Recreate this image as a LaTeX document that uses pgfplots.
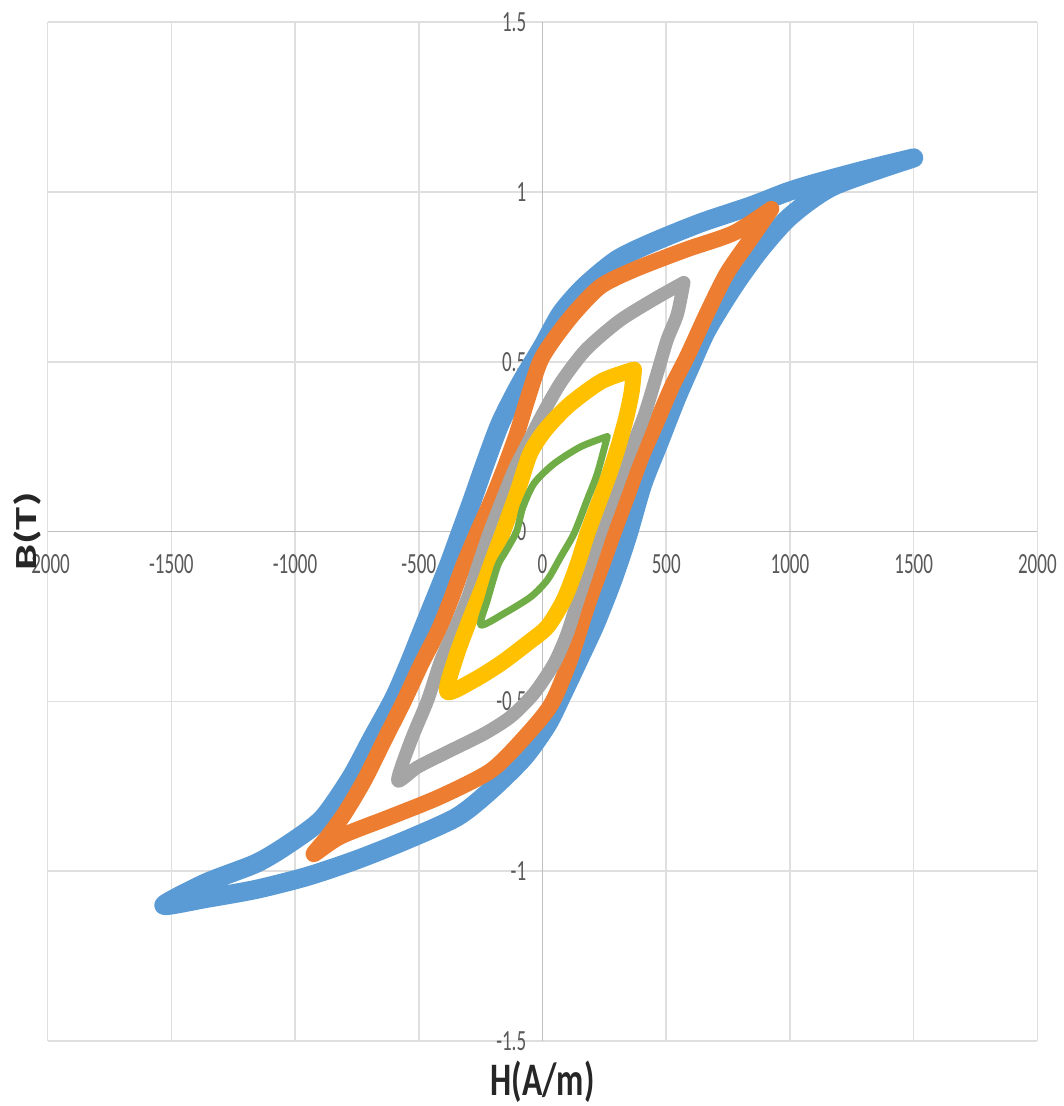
\documentclass[border=0pt]{standalone}
\usepackage{fontspec}
\setmainfont{Carlito}
\usepackage{graphicx}
\usepackage{pgfplots}
\pgfplotsset{compat=1.18}
\definecolor{sblue}{HTML}{5B9BD5}
\definecolor{sorange}{HTML}{ED7D31}
\definecolor{sgray}{HTML}{A5A5A5}
\definecolor{syellow}{HTML}{FFC000}
\definecolor{sgreen}{HTML}{70AD47}
\definecolor{ticktext}{HTML}{595959}

% tick labels above the curves, as in the original
\pgfplotsset{
  layers/labelsontop/.define layer set={
    axis background,axis grid,axis ticks,axis lines,main,
    axis tick labels,axis descriptions,axis foreground
  }{},
}

% loops: upper (descending) branch first, then lower (ascending) branch
\pgfplotstableread{
H B
1500 1.10
1310 1.066
1110 1.027
990 1.00
840 0.958
640 0.909
440 0.85
300 0.80
170 0.722
75 0.643
0 0.545
-90 0.435
-170 0.32
-232 0.20
-285 0.09
-330 0
-380 -0.10
-435 -0.20
-485 -0.29
-540 -0.39
-600 -0.49
-690 -0.61
-775 -0.725
-890 -0.845
-1020 -0.917
-1155 -0.976
-1360 -1.034
-1530 -1.10
-1360 -1.08
-1155 -1.053
-950 -1.015
-750 -0.966
-550 -0.908
-345 -0.84
-210 -0.762
-75 -0.665
20 -0.568
80 -0.48
145 -0.38
215 -0.27
285 -0.14
345 -0.01
405 0.14
470 0.26
540 0.39
600 0.49
665 0.594
773 0.722
880 0.83
1001 0.928
1176 1.017
1500 1.10
}\loopblue

\pgfplotstableread{
H B
925 0.95
773 0.879
580 0.83
370 0.771
235 0.722
128 0.643
45 0.565
-10 0.50
-61 0.389
-105 0.285
-160 0.175
-210 0.085
-262 0
-320 -0.10
-370 -0.20
-420 -0.29
-490 -0.39
-558 -0.496
-640 -0.615
-720 -0.732
-800 -0.83
-870 -0.90
-925 -0.95
-817 -0.898
-615 -0.84
-412 -0.78
-209 -0.704
-74 -0.607
34 -0.51
110 -0.38
185 -0.21
240 -0.10
289 0
345 0.11
400 0.22
460 0.32
525 0.43
585 0.516
665 0.643
746 0.761
840 0.86
925 0.95
}\looporange

\pgfplotstableread{
H B
571 0.733
451 0.684
310 0.62
175 0.535
75 0.44
0 0.345
-60 0.26
-114 0.182
-165 0.09
-213 0
-260 -0.10
-300 -0.19
-350 -0.28
-410 -0.378
-464 -0.496
-531 -0.614
-585 -0.733
-504 -0.693
-370 -0.644
-235 -0.595
-128 -0.545
-34 -0.476
47 -0.388
100 -0.30
144 -0.20
190 -0.10
235 0
290 0.11
340 0.21
410 0.339
464 0.467
504 0.565
545 0.64
571 0.733
}\loopgray

\pgfplotstableread{
H B
370 0.477
240 0.443
108 0.373
12 0.30
-50 0.23
-100 0.12
-159 0
-200 -0.08
-240 -0.16
-300 -0.27
-350 -0.37
-385 -0.472
-276 -0.437
-168 -0.388
-61 -0.329
20 -0.28
87 -0.20
140 -0.10
184 0
235 0.10
276 0.182
310 0.26
340 0.34
360 0.41
370 0.477
}\loopyellow

\pgfplotstableread{
H B
262 0.28
155 0.25
47 0.20
-34 0.142
-80 0.07
-105 0
-150 -0.06
-181 -0.10
-222 -0.20
-249 -0.275
-155 -0.241
-47 -0.192
20 -0.142
74 -0.074
128 -0.005
181 0.094
222 0.172
262 0.28
}\loopgreen

\begin{document}
\begin{tikzpicture}
\begin{axis}[
    set layers=labelsontop,
    width=372pt, height=383pt, scale only axis,
    xmin=-2000, xmax=2000,
    ymin=-1.5, ymax=1.5,
    axis lines=middle,
    axis line style={draw=gray!50, line width=0.6pt, -},
    grid=major,
    grid style={draw=gray!25, line width=0.6pt},
    xtick={-2000,-1500,-1000,-500,0,500,1000,1500,2000},
    ytick={-1.5,-1,-0.5,0,0.5,1,1.5},
    major tick length=0pt,
    hide obscured x ticks=false,
    hide obscured y ticks=false,
    /pgf/number format/assume math mode=true,
    /pgf/number format/1000 sep={},
    xticklabel={\scalebox{0.65}[1]{\pgfmathprintnumber{\tick}}},
    yticklabel={\scalebox{0.65}[1]{\pgfmathprintnumber{\tick}}},
    ticklabel style={font=\fontsize{11}{11}\selectfont, text=ticktext},
    xticklabel style={yshift=-5pt},
    yticklabel style={xshift=-2.6pt},
    xlabel={\scalebox{0.72}[1]{H(A/m)}},
    ylabel={\scalebox{1}[0.66]{B(T)}},
    xlabel style={at={(axis description cs:0.5,-0.0402)}, anchor=center,
        font=\bfseries\fontsize{17.5}{17.5}\selectfont, text=black!85},
    ylabel style={at={(axis description cs:-0.0207,0.5)}, anchor=center, rotate=90,
        font=\bfseries\fontsize{17.5}{17.5}\selectfont, text=black!85},
    every axis plot/.append style={smooth, tension=0.45, line join=round, line cap=round},
]
\addplot[color=sblue, line width=7.2pt] table[x=H, y=B] {\loopblue};
\addplot[color=sorange, line width=6pt] table[x=H, y=B] {\looporange};
\addplot[color=sgray, line width=5pt] table[x=H, y=B] {\loopgray};
\addplot[color=syellow, line width=6pt] table[x=H, y=B] {\loopyellow};
\addplot[color=sgreen, line width=2.6pt] table[x=H, y=B] {\loopgreen};
\coordinate (bl) at (rel axis cs:0,0);
\coordinate (tr) at (rel axis cs:1,1);
\end{axis}
\pgfresetboundingbox
\useasboundingbox ([shift={(-17.9pt,-24.4pt)}]bl) rectangle ([shift={(9.8pt,8.3pt)}]tr);
\end{tikzpicture}
\end{document}
